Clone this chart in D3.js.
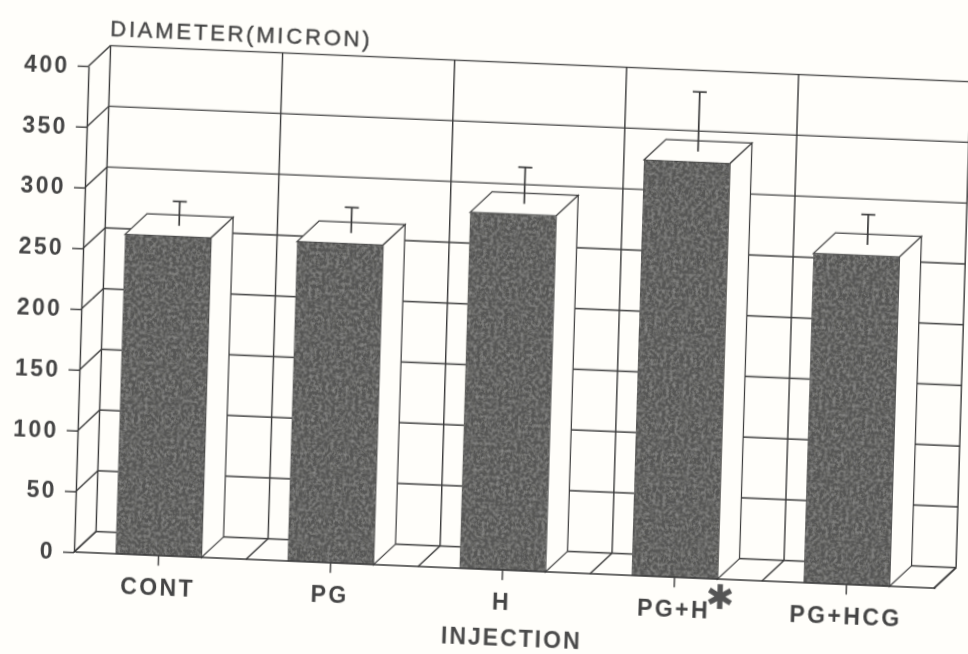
<!DOCTYPE html>
<html lang="en">

<head>
  <meta charset="UTF-8">
  <script src="https://d3js.org/d3.v7.min.js"></script>
  <title>Diameter (micron)</title>
  <style>
    html, body { margin: 0; padding: 0; background: #fffefa; overflow: hidden; }
    svg { display: block; }
    text { font-family: "Liberation Sans", Arial, sans-serif; fill: #444; font-weight: bold; stroke: none; }
  </style>
</head>

<body>
  <svg width="968" height="654"></svg>
</body>
<script>
  const categories = ["CONT", "PG", "H", "PG+H", "PG+HCG"];
  const diameters = [263, 263, 293, 342, 271];
  const errors = [20, 21, 30, 49, 25];
  const yTicks = [0, 50, 100, 150, 200, 250, 300, 350, 400];

  const svg = d3.select("svg");
  const lineColor = "#3a3a3a";
  const barColor = "#565654";

  const plotWidth = 860;
  const plotHeight = 486;
  const depth = 21.4; // oblique offset of the back wall
  const barShift = -1.5; // bars sit a bit left of the band centre in the original

  // bar texture and a little softness, it is a scanned page
  const defs = svg.append("defs");
  const grain = defs.append("filter").attr("id", "grain")
    .attr("x", 0).attr("y", 0).attr("width", 1).attr("height", 1);
  grain.append("feTurbulence").attr("type", "fractalNoise").attr("baseFrequency", 0.3)
    .attr("numOctaves", 3).attr("seed", 4).attr("result", "noise");
  grain.append("feColorMatrix").attr("in", "noise").attr("type", "matrix")
    .attr("values", "0 0 0 0 0.42  0 0 0 0 0.42  0 0 0 0 0.41  0 0 0 1.0 -0.38").attr("result", "speck");
  grain.append("feComposite").attr("in", "speck").attr("in2", "SourceAlpha").attr("operator", "in").attr("result", "clipped");
  const merge = grain.append("feMerge");
  merge.append("feMergeNode").attr("in", "SourceGraphic");
  merge.append("feMergeNode").attr("in", "clipped");
  defs.append("filter").attr("id", "soft").append("feGaussianBlur").attr("stdDeviation", 0.4);

  // the scanned page is a little rotated, the whole plot sits in this matrix
  const chart = svg.append("g")
    .attr("filter", "url(#soft)")
    .attr("transform", "matrix(1,0.042,-0.03,1,74,552)");

  const xScale = d3.scaleBand()
    .domain(categories)
    .range([barShift, plotWidth + barShift])
    .paddingInner(0.5)
    .paddingOuter(0.25);

  const yScale = d3.scaleLinear()
    .domain([0, 400])
    .range([0, -plotHeight]);

  const step = xScale.step();
  const bounds = d3.range(categories.length + 1).map(i => i * step);

  const line = (g, x1, y1, x2, y2) => g.append("line")
    .attr("x1", x1).attr("y1", y1).attr("x2", x2).attr("y2", y2)
    .attr("stroke", lineColor).attr("stroke-width", 1.4);

  /**
   * back wall, left wall and floor
   */
  const grid = chart.append("g").attr("class", "grid");
  yTicks.forEach(t => {
    line(grid, depth, yScale(t) - depth, plotWidth + depth, yScale(t) - depth);
    line(grid, 0, yScale(t), depth, yScale(t) - depth);
  });
  bounds.forEach(b => {
    line(grid, b + depth, yScale(0) - depth, b + depth, yScale(400) - depth);
    line(grid, b, yScale(0), b + depth, yScale(0) - depth);
  });

  /**
   * bars
   */
  const bars = chart.append("g").attr("class", "bars")
    .selectAll("g")
    .data(categories)
    .join("g");

  const poly = pts => "M" + pts.map(p => p.join(",")).join("L") + "Z";

  // top
  bars.append("path")
    .attr("d", (d, i) => {
      const x0 = xScale(d), x1 = x0 + xScale.bandwidth(), y = yScale(diameters[i]);
      return poly([[x0, y], [x1, y], [x1 + depth, y - depth], [x0 + depth, y - depth]]);
    })
    .attr("fill", "#fffefa").attr("stroke", lineColor).attr("stroke-width", 1.2);

  // right side
  bars.append("path")
    .attr("d", (d, i) => {
      const x1 = xScale(d) + xScale.bandwidth(), y = yScale(diameters[i]);
      return poly([[x1, y], [x1 + depth, y - depth], [x1 + depth, -depth], [x1, 0]]);
    })
    .attr("fill", "#fffefa").attr("stroke", lineColor).attr("stroke-width", 1.2);

  // front
  bars.append("rect")
    .attr("x", d => xScale(d))
    .attr("y", (d, i) => yScale(diameters[i]))
    .attr("width", xScale.bandwidth())
    .attr("height", (d, i) => yScale(0) - yScale(diameters[i]))
    .attr("fill", barColor)
    .attr("filter", "url(#grain)");

  // error bars stand in the middle of the top face
  const errorBars = bars.append("g")
    .attr("transform", d => "translate(" + (xScale(d) + xScale.bandwidth() / 2 + depth / 2) + "," + (-depth / 2) + ")");
  errorBars.append("line")
    .attr("y1", (d, i) => yScale(diameters[i]))
    .attr("y2", (d, i) => yScale(diameters[i] + errors[i]))
    .attr("stroke", lineColor).attr("stroke-width", 1.7);
  errorBars.append("line")
    .attr("x1", -7).attr("x2", 7)
    .attr("y1", (d, i) => yScale(diameters[i] + errors[i]))
    .attr("y2", (d, i) => yScale(diameters[i] + errors[i]))
    .attr("stroke", lineColor).attr("stroke-width", 1.7);

  /**
   * axes
   */
  const yAxis = chart.append("g")
    .attr("class", "axis--y")
    .call(d3.axisLeft(yScale).tickValues(yTicks).tickSize(11).tickPadding(8).tickSizeOuter(0));

  const xAxis = chart.append("g")
    .attr("class", "axis--x")
    .call(d3.axisBottom(xScale).tickSize(10).tickPadding(13).tickSizeOuter(0));

  chart.selectAll(".domain, .tick line")
    .attr("stroke", lineColor).attr("stroke-width", 1.4);
  chart.selectAll(".axis--x .domain").attr("d", "M" + (-barShift) + ",0H" + (plotWidth - barShift));
  chart.selectAll(".axis--y text, .axis--x text")
    .style("font-size", "23px")
    .style("letter-spacing", "2.4px")
    .attr("fill", "#4a4a4a");

  // close the floor on the right
  line(chart, plotWidth, 0, plotWidth + depth, -depth);

  /**
   * titles
   */
  chart.append("text")
    .attr("x", 20.5).attr("y", -517)
    .style("font-size", "22px")
    .style("font-weight", "normal")
    .style("stroke", "#444")
    .style("stroke-width", 0.4)
    .style("letter-spacing", "2.8px")
    .text("DIAMETER(MICRON)");

  chart.append("text")
    .attr("x", 369).attr("y", 76)
    .style("font-size", "23px")
    .style("letter-spacing", "2px")
    .style("fill", "#4a4a4a")
    .text("INJECTION");

  chart.append("text")
    .attr("x", xScale("PG+H") + xScale.bandwidth() / 2 + 46)
    .attr("y", 30)
    .attr("text-anchor", "middle")
    .style("font-family", "'DejaVu Sans'")
    .style("font-size", "34px")
    .style("fill", "#555")
    .text("\u2731");
</script>

</html>
